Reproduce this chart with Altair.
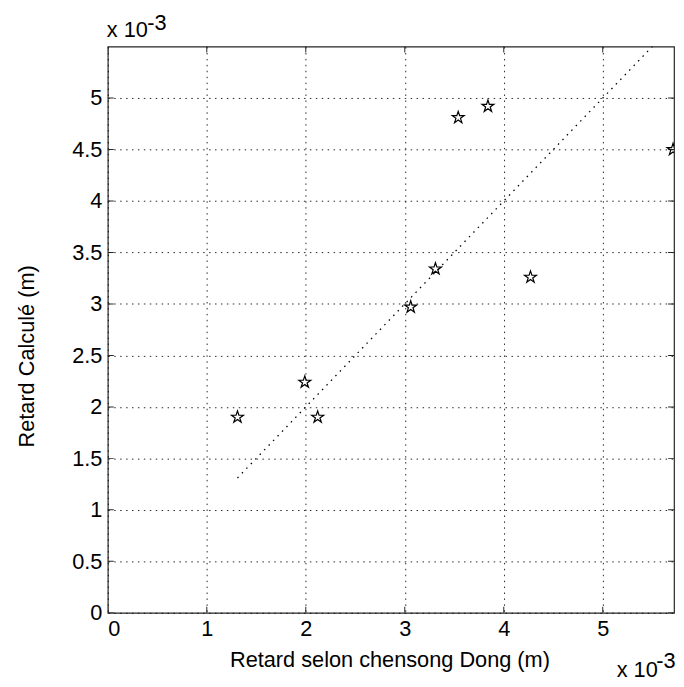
import altair as alt
import pandas as pd

# Data (metres)
ref_x = [1.31e-3, 1.99e-3, 2.12e-3, 3.06e-3, 3.31e-3, 3.54e-3, 3.84e-3, 4.27e-3, 5.71e-3]
calc_y = [1.90e-3, 2.24e-3, 1.90e-3, 2.97e-3, 3.34e-3, 4.81e-3, 4.92e-3, 3.26e-3, 4.50e-3]
line_x = [1.31e-3, 5.71e-3]
line_y = [1.31e-3, 5.71e-3]
x_ticks = [0, 1e-3, 2e-3, 3e-3, 4e-3, 5e-3]
y_ticks = [0, 0.5e-3, 1e-3, 1.5e-3, 2e-3, 2.5e-3, 3e-3, 3.5e-3, 4e-3, 4.5e-3, 5e-3]
x_domain = [0, 5.72e-3]
y_domain = [0, 5.5e-3]
x_title = "Retard selon chensong Dong (m)"
y_title = "Retard Calculé (m)"

W = 573
H = 573
FONT = "Liberation Sans"
FS = 22

# five-pointed star outline (MATLAB 'pentagram' marker), unit coordinates
STAR = ("M0,-1L0.225,-0.309L0.951,-0.309L0.363,0.118L0.588,0.809L0,0.382"
        "L-0.588,0.809L-0.363,0.118L-0.951,-0.309L-0.225,-0.309Z")

pts = pd.DataFrame({"x": ref_x, "y": calc_y})
ln = pd.DataFrame({"x": line_x, "y": line_y})
xt = pd.DataFrame({"v": x_ticks})
yt = pd.DataFrame({"v": y_ticks})

xs = alt.Scale(domain=x_domain, nice=False, zero=False)
ys = alt.Scale(domain=y_domain, nice=False, zero=False)

lab = "round(datum.value*1e4)/10"

xaxis = alt.Axis(orient="bottom", values=x_ticks, labelExpr=lab, grid=True, ticks=False,
                 domain=False, title=x_title, titleX=285, titleY=54,
                 titleBaseline="alphabetic", titleAlign="center", labelPadding=6)
yaxis = alt.Axis(orient="left", values=y_ticks, labelExpr=lab, grid=True, ticks=False,
                 domain=False, title=y_title, titleX=-75, titleY=313, titleAngle=270,
                 titleBaseline="alphabetic", titleAlign="center", labelPadding=6)

line = alt.Chart(ln).mark_line(color="black", strokeWidth=1.3, strokeDash=[1.5, 5], clip=True).encode(
    x=alt.X("x:Q", scale=xs, axis=xaxis),
    y=alt.Y("y:Q", scale=ys, axis=yaxis),
)

points = alt.Chart(pts).mark_point(shape=STAR, filled=False, size=160, color="black",
                                   strokeWidth=1.2, opacity=1, clip=True).encode(
    x=alt.X("x:Q"),
    y=alt.Y("y:Q"),
)

TL = 12  # full tick length; half is clipped away so ticks point inward
tick_style = dict(color="#262626", size=TL, thickness=1, clip=True, opacity=1)
xb = alt.Chart(xt).mark_tick(**tick_style).encode(x=alt.X("v:Q"), y=alt.value(H))
xtop = alt.Chart(xt).mark_tick(**tick_style).encode(x=alt.X("v:Q"), y=alt.value(0))
yl = alt.Chart(yt).mark_tick(**tick_style).encode(y=alt.Y("v:Q"), x=alt.value(0))
yr = alt.Chart(yt).mark_tick(**tick_style).encode(y=alt.Y("v:Q"), x=alt.value(W))

one = alt.Data(values=[{"k": 1}])

def txt(s, x, y):
    return alt.Chart(one).mark_text(font=FONT, fontSize=FS, color="black", align="left",
                                    baseline="alphabetic").encode(
        x=alt.value(x), y=alt.value(y), text=alt.value(s))

exp_top = txt("x 10", -1, -10) + txt("-3", 40, -17)
exp_bot = txt("x 10", 515, 638) + txt("-3", 555, 629)

chart = alt.layer(line, xb, xtop, yl, yr, points, exp_top, exp_bot).properties(
    width=W, height=H,
    padding={"left": 101, "top": 35, "right": 2, "bottom": 66},
    autosize="none",
).configure_view(stroke="#262626", strokeWidth=1.2).configure_axis(
    labelFont=FONT, titleFont=FONT, labelFontSize=FS, titleFontSize=FS,
    labelColor="black", titleColor="black", titleFontWeight="normal",
    gridColor="black", gridDash=[1.5, 4.5], gridOpacity=0.85, gridWidth=1,
)

chart.save("out.html", embed_options={"renderer": "svg", "actions": False})
